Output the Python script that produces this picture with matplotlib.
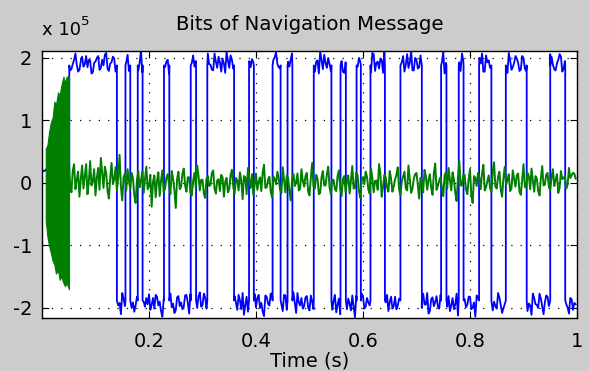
import matplotlib
matplotlib.use("Agg")
import matplotlib.pyplot as plt
import numpy as np

plt.rcParams['font.family'] = ['DejaVu Sans']

# Datos
# -------------------------
# intervalos en los que el bit vale +1 (s)
hi_start = [0.051, 0.156, 0.179, 0.228, 0.278, 0.309, 0.387, 0.431, 0.459, 0.508,
            0.558, 0.588, 0.614, 0.670, 0.746, 0.779, 0.817, 0.867, 0.950]
hi_end = [0.140, 0.165, 0.188, 0.238, 0.288, 0.359, 0.396, 0.446, 0.468, 0.541,
          0.568, 0.596, 0.641, 0.710, 0.756, 0.788, 0.840, 0.906, 0.978]
bit_level = 1.88     # x 1e5
pre_level = 0.2      # x 1e5, antes del primer bit

# ruido sobre los bits (x 1e4): muestras cada 5 ms ...
blue_jit = [0.5, -0.8, 1.2, 0.3, -0.5, 1.8, -0.2, 0.7, -1.0, 0.4, 2.3, -0.6, 0.9, 0.1, -0.7, 1.4, 0.2, -0.3, 0.8, -1.1,
            0.6, 1.5, -0.4, 0.0, 2.0, -0.9, 0.5, 1.1, -0.3, 0.4, -1.2, 0.9, 1.7, -0.5, 0.3, 0.8, -0.8, 2.4, 0.2, -0.4,
            -1.0, 0.7, 1.3, -0.6, 0.2, 2.6, -0.3, 0.9, -1.1, 0.5, 1.6, -0.7, 0.3, 1.0, -0.9, 2.1, 0.4, -0.2, 1.2, -1.3,
            0.8, -0.5, 1.9, 0.1, -0.8, 0.6, 1.4, -1.0, 0.3, 2.2, -0.4, 0.9, -0.7, 1.5, 0.0, -1.2, 0.7, 1.8, -0.3, 0.5,
            1.1, -0.9, 0.4, 2.5, -0.6, 0.8, -1.1, 1.3, 0.2, -0.5, 1.7, -0.8, 0.6, 1.0, -1.3, 2.0, 0.3, -0.4, 0.9, -0.7,
            1.6, 0.2, -1.0, 0.8, 2.3, -0.6, 0.4, 1.2, -0.9, 0.1, 1.9, -0.3, 0.7, -1.2, 1.4, 0.5, -0.8, 2.7, -0.2, 0.6,
            -0.7, 1.0, 0.3, -1.1, 1.8, 0.4, -0.5, 0.9, 2.1, -0.9, 0.2, 1.3, -0.6, 0.8, -1.0, 1.5, 0.1, -0.4, 2.4, -0.8,
            0.9, -0.3, 1.2, 0.6, -1.2, 1.7, -0.5, 0.3, 1.0, -0.9, 2.2, 0.4, -0.7, 0.8, 1.4, -1.1, 0.5, 1.9, -0.2, 0.7,
            -0.6, 1.1, 2.6, -0.4, 0.3, -1.0, 1.6, 0.8, -0.8, 0.2, 1.3, -0.5, 2.0, 0.6, -1.2, 0.9, -0.3, 1.5, 0.4, -0.7,
            1.2, -0.9, 0.5, 2.3, -0.4, 0.7, -1.1, 1.0, 0.3, -0.6, 1.8, 0.1, -0.8, 0.9, 1.4, -0.5, 0.6, 2.1, -0.2, 0.4]
# ... y muestras intermedias (desplazadas 2.5 ms)
blue_mid = [-0.9, 1.6, -0.3, 0.8, 1.1, -1.2, 0.6, 2.0, -0.4, 1.3, -0.8, 0.2, 1.9, -1.0, 0.7, -0.2, 1.5, 0.9, -1.3, 0.4,
            1.2, -0.7, 0.9, 1.7, -0.5, 0.3, 1.4, -1.0, 0.8, 2.2, -0.3, 0.5, -0.9, 1.2, 1.8, -0.6, 0.4, -1.1, 1.0, 0.6,
            1.5, -0.4, -0.9, 0.8, 1.7, -0.2, 0.6, -1.3, 1.1, 2.0, -0.5, 0.9, 1.4, -0.8, 0.3, -1.0, 1.6, 0.7, -0.6, 1.0,
            -1.1, 1.3, 0.2, -0.7, 1.9, -0.4, 0.5, 1.1, -1.2, 0.8, 1.6, -0.5, 0.3, -0.9, 1.4, 2.3, -0.6, 0.7, 1.0, -1.0,
            -0.4, 1.2, 1.8, -0.8, 0.5, -1.1, 0.9, 2.1, -0.3, 0.6, -0.9, 1.5, -0.2, 1.9, 0.4, -1.2, 0.8, 1.3, -0.5, 1.1,
            -0.8, 1.4, 0.6, -1.3, 0.9, 1.7, -0.4, 0.2, 1.5, -0.9, 0.7, 2.2, -1.0, 0.5, -0.3, 1.6, 0.9, -0.7, 1.2, -1.1,
            1.3, -0.4, 0.8, 2.0, -0.9, 0.6, 1.1, -1.2, 0.3, 1.7, -0.6, 0.9, 1.4, -0.3, 0.5, -1.0, 1.8, 0.4, -0.8, 1.2,
            -0.5, 1.6, -1.1, 0.7, 2.1, -0.2, 0.9, -0.7, 1.3, 0.5, -1.3, 1.0, 1.7, -0.4, 0.6, 2.4, -0.9, 0.8, 1.1, -0.6,
            1.4, 0.3, -0.8, 1.2, 1.9, -1.0, 0.5, -0.4, 1.6, 0.9, -1.2, 0.7, 1.3, -0.3, 2.0, -0.7, 0.4, 1.1, -0.9, 1.5,
            -0.5, 1.7, 0.8, -1.1, 0.6, 1.2, -0.3, 2.2, -0.8, 0.9, 1.4, -0.6, 0.3, 1.8, -1.0, 0.7, 1.1, -0.4, 1.5, 0.6]

# rafaga inicial de la senal verde (x 1e5)
burst_t = [0.007, 0.010, 0.013, 0.016, 0.020, 0.023, 0.026, 0.030, 0.033, 0.036, 0.040, 0.043, 0.046, 0.0505]
burst_up = [0.55, 0.6, 0.8, 0.95, 1.05, 1.3, 1.25, 1.45, 1.4, 1.55, 1.7, 1.6, 1.7, 1.7]
burst_lo = [-0.6, -0.85, -1.0, -1.1, -1.25, -1.3, -1.45, -1.4, -1.55, -1.5, -1.6, -1.65, -1.6, -1.7]

# senal verde tras la rafaga (x 1e4): muestras cada 5 ms desde 0.05 s ...
green_vals = [4.2, -1.5, 3.0, 0.5, -2.2, 2.8, 1.0, -1.8, 3.5, 0.2, -2.0, 2.4, 4.0, -0.8, 1.6, -2.5, 3.2, 0.6, -1.2, 4.5,
              -2.8, 1.5, 2.2, -1.0, 0.8, -3.2, 1.9, 0.3, -1.6, 2.6, -0.5, -3.8, 1.2, 0.4, -2.1, 2.0, -0.9, 1.4, -1.8, 0.7,
              -4.0, 1.8, -0.6, 2.3, -1.4, 0.9, -2.0, 1.6, 2.8, -1.2, 0.5, -2.4, 1.1, -0.3, 2.0, -1.7, 0.6, 1.3, -2.2, 0.8,
              -1.0, 2.1, -1.8, 0.4, 1.7, -2.6, 0.9, 2.4, -0.8, -1.9, 1.5, 0.2, -1.3, 2.9, -0.7, 1.0, -2.3, 0.6, 1.8, -1.1,
              2.5, -1.5, 0.8, -2.8, 1.4, 0.1, -1.2, 2.2, -0.6, 1.6, -2.0, 3.2, -0.9, 0.7, -1.6, 1.9, -0.4, 2.6, -1.8, 0.5,
              -1.3, 2.0, -2.1, 1.1, 0.3, -1.7, 2.7, -0.8, 1.2, -2.4, 0.9, 1.8, -1.0, 2.3, -1.5, 0.4, 3.0, -2.2, 1.3, -0.7,
              1.9, -1.4, 0.6, 2.5, -2.0, 1.0, -0.9, 2.8, -1.6, 0.7, 1.6, -2.5, 0.2, 2.1, -1.1, 1.4, -1.9, 3.1, -0.5, 0.9,
              -2.1, 1.7, 2.4, -1.2, 0.5, -2.9, 3.5, -0.4, 1.3, -1.8, 2.2, -3.2, 0.8, 1.6, -1.0, 2.9, -0.7, 1.2, -1.5, 3.3,
              -0.9, 1.8, -2.2, 2.6, 0.4, -1.3, 2.0, -0.6, 1.5, -1.9, 3.0, -0.8, 1.1, 2.3, -1.4, 0.7, -2.0, 2.7, -0.3, 1.6,
              -1.1, 2.2, 0.5, -1.6, 1.9, 0.8, -0.9, 2.4, 1.2, 1.5]
# ... y las muestras intermedias (desplazadas 2.5 ms)
green_mid = [-0.5, 2.0, -1.0, 1.8, 0.6, -0.9, 3.0, 0.2, -0.4, 2.2, 0.8, -1.1, 1.5, 2.6, -1.3, 0.9, -0.2, 2.5, 1.0, -0.6,
             0.9, -1.2, 0.3, 1.6, -2.0, 0.5, -0.7, 1.8, 0.6, -1.0, 1.3, 0.2, -2.3, 1.7, 0.4, -1.5, 0.8, -0.3, 1.9, -1.2,
             0.6, -1.0, 1.5, -0.4, 0.9, -1.6, 0.3, -0.8, 1.2, 0.5, -1.7, 0.7, -0.5, 1.6, -0.9, 0.4, -1.3, 0.9, 0.2, -1.5,
             1.3, -0.6, 0.8, -1.2, 0.4, 1.1, -1.8, 0.6, 1.4, -0.3, -1.1, 0.9, 1.7, -0.8, 0.5, -1.4, 1.0, -0.2, 0.7, -1.6,
             0.4, 1.2, -1.3, 0.6, -0.5, 1.5, -0.9, 0.3, 1.1, -1.4, 0.8, -0.6, 1.3, -1.8, 0.9, -0.4, 1.4, -0.7, 0.5, -1.0,
             1.1, -0.8, 0.6, -1.5, 1.2, 0.4, -0.9, 1.6, -1.3, 0.5, -0.2, 1.0, -1.7, 0.8, 0.3, -1.1, 1.5, -0.6, 0.9, -1.4,
             0.7, -0.5, 1.3, -1.0, 0.2, 1.8, -1.2, 0.6, -0.9, 1.4, -0.3, 0.8, -1.5, 1.1, 0.5, -0.8, 1.6, -1.1, 0.4, -0.7,
             1.2, -0.9, 0.5, 1.7, -1.6, 0.8, -0.4, 1.3, -1.0, 0.6, -2.0, 1.1, -0.5, 0.9, 1.5, -1.2, 0.3, -0.8, 1.8, -0.6,
             1.0, -1.1, 0.7, -0.3, 1.4, -0.9, 0.6, 1.2, -1.4, 0.4, -0.6, 1.6, -1.0, 0.5, 1.1, -1.3, 0.8, -0.4, 1.3, -0.7,
             0.9, -0.5, 1.4, -0.8, 0.6, 1.1, -0.3, 0.8, 1.6, 0.7]

xticks = [0.2, 0.4, 0.6, 0.8, 1.0]
xtick_labels = ['0.2', '0.4', '0.6', '0.8', '1']
yticks = [-2e5, -1e5, 0, 1e5, 2e5]
ytick_labels = ['-2', '-1', '0', '1', '2']


def bit_sign(x):
    '''Valor del bit (+1 / -1) en el instante x'''
    for a, b in zip(hi_start, hi_end):
        if a <= x < b:
            return 1
    return -1


def blue_value(x, j):
    '''Nivel de la senal azul en x con ruido j (x 1e4)'''
    if x < hi_start[0]:
        return pre_level * 1e5 + j * 1e3
    return bit_sign(x) * (bit_level * 1e5 + j * 1e4)


# Curva azul: muestras con ruido + saltos verticales en cada transicion
# --------------------------------------------------------------------
pts = []
for k in range(len(blue_jit)):
    pts.append((0.005 * k, blue_value(0.005 * k, blue_jit[k])))
    pts.append((0.005 * k + 0.0025, blue_value(0.005 * k + 0.0025, blue_mid[k])))
for tr in hi_start + hi_end:
    before = pre_level * 1e5 if tr == hi_start[0] else bit_sign(tr - 1e-4) * bit_level * 1e5
    pts.append((tr - 1e-6, before))
    pts.append((tr + 1e-6, bit_sign(tr + 1e-4) * bit_level * 1e5))
pts.sort()
tb = [p[0] for p in pts]
blue = [p[1] for p in pts]

# Curva verde
# -----------
tg = np.empty(2 * len(green_vals))
green = np.empty(2 * len(green_vals))
tg[0::2] = 0.05 + 0.005 * np.arange(len(green_vals))
tg[1::2] = 0.0525 + 0.005 * np.arange(len(green_mid))
green[0::2] = np.array(green_vals) * 1e4
green[1::2] = np.array(green_mid) * 1e4

# Grafica
# -------
fig = plt.figure(figsize=(5.89, 3.71), dpi=100, facecolor='#cccccc')
ax = fig.add_axes([0.0713, 0.1429, 0.9083, 0.7196])

ax.plot(tb, blue, color='#0000ff', lw=1.3, zorder=2)
ax.fill_between(burst_t, np.array(burst_lo) * 1e5, np.array(burst_up) * 1e5,
                facecolor='#007f00', edgecolor='#007f00', lw=0.8, zorder=3)
ax.plot(tg, green, color='#007f00', lw=1.4, zorder=3)

ax.set_xlim(0, 1)
ax.set_ylim(-2.16e5, 2.11e5)
ax.set_xticks(xticks)
ax.set_xticklabels(xtick_labels)
ax.set_yticks(yticks)
ax.set_yticklabels(ytick_labels)
ax.tick_params(direction='in', length=5, top=True, right=True, labelsize=14)
ax.tick_params(axis='x', pad=10)
ax.tick_params(axis='y', pad=7)
ax.grid(True, color='k', linestyle=(0, (1, 6.5)), lw=0.9)
for sp in ax.spines.values():
    sp.set_linewidth(1.0)

ax.set_title('Bits of Navigation Message', fontsize=14.2, pad=15)
ax.set_xlabel('Time (s)', fontsize=14, labelpad=0.5)
fig.text(0.071, 0.906, 'x 10', fontsize=13, ha='left', va='baseline')
fig.text(0.138, 0.932, '5', fontsize=9.5, ha='left', va='baseline')

fig.savefig('out.png', dpi=100, facecolor=fig.get_facecolor())
